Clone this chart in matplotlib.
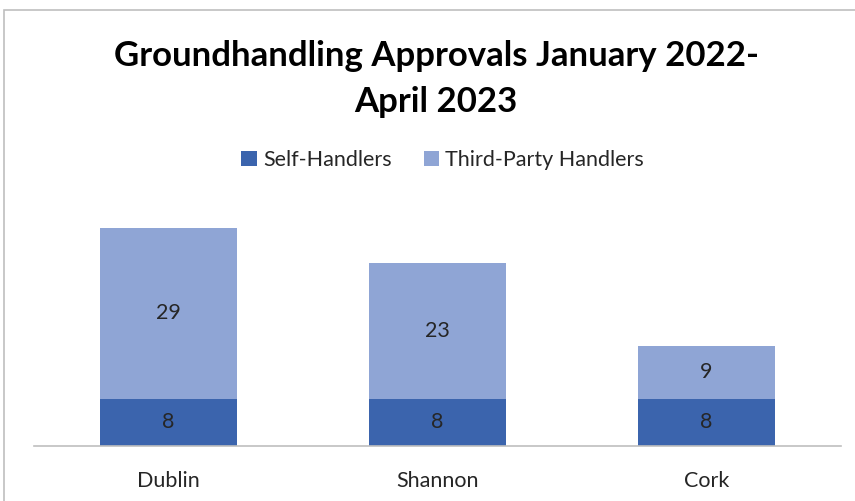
import matplotlib.pyplot as plt
from matplotlib.patches import Rectangle
import numpy as np

# chart data
airports = ['Dublin', 'Shannon', 'Cork']
self_handlers = [8, 8, 8]
third_party = [29, 23, 9]
series_names = ['Self-Handlers', 'Third-Party Handlers']
title = 'Groundhandling Approvals January 2022-\nApril 2023'

plt.rcParams['font.family'] = ['Lato', 'DejaVu Sans']

dark_blue = '#3B64AD'
light_blue = '#8FA5D5'
text_col = '#262626'

fig = plt.figure(figsize=(8.55, 5.01), dpi=100)
ax = fig.add_axes([34 / 855, 55 / 501, 807 / 855, 236 / 501])

x = np.arange(len(airports))
b1 = ax.bar(x, self_handlers, width=0.512, color=dark_blue, label=series_names[0])
b2 = ax.bar(x, third_party, width=0.512, bottom=self_handlers, color=light_blue,
            label=series_names[1])

# value labels in the middle of each segment
ax.bar_label(b1, label_type='center', fontsize=15.5, color=text_col)
ax.bar_label(b2, label_type='center', fontsize=15.5, color=text_col)

ax.set_xlim(-0.5, len(airports) - 0.5)
ax.set_ylim(0, 40)
ax.set_xticks(x)
ax.set_xticklabels(airports, fontsize=15.5, color=text_col)
ax.tick_params(axis='x', length=0, pad=18)
ax.set_yticks([])
for side in ['top', 'left', 'right']:
    ax.spines[side].set_visible(False)
ax.spines['bottom'].set_color('#BFBFBF')
ax.spines['bottom'].set_linewidth(1.2)

# chart area runs past the right edge, so its centre sits a bit right of the image centre
cx = 436 / 855
fig.text(cx, 1 - 79 / 501, title, ha='center', va='center', fontsize=25,
         fontweight='bold', color='black', linespacing=1.55)

fig.legend(handles=[b1, b2], labels=series_names, loc='center',
           bbox_to_anchor=(cx + 0.008, 1 - 160 / 501), ncol=2, frameon=False,
           fontsize=15.5, handlelength=0.7, handleheight=0.7,
           handletextpad=0.3, columnspacing=1.5, labelcolor=text_col)

# outer chart border (runs off the right and bottom edges)
fig.patches.append(Rectangle((4 / 855, -0.05), 1.1, 1 - 10 / 501 + 0.05,
                             transform=fig.transFigure, fill=False,
                             edgecolor='#BFBFBF', linewidth=1.2))

fig.savefig('out.png', dpi=100)
